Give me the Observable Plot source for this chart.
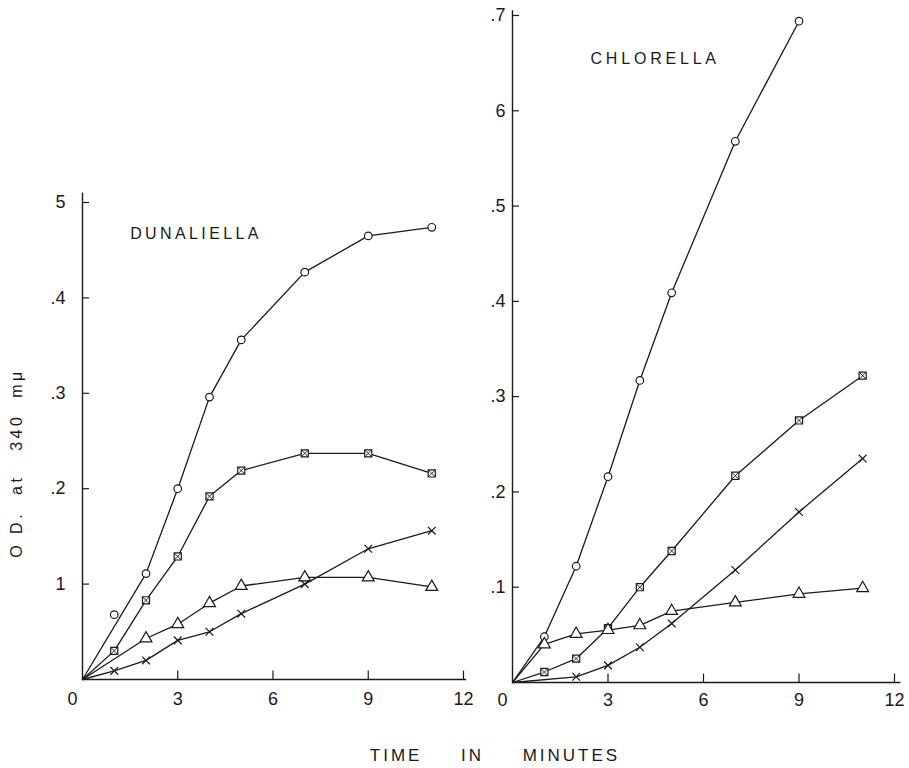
<!DOCTYPE html>
<html><head><meta charset="utf-8">
<script src="https://cdn.jsdelivr.net/npm/d3@7"></script>
<script src="https://cdn.jsdelivr.net/npm/@observablehq/plot@0.6"></script>
<style>
body{margin:0;background:#fff;}
#wrap{position:relative;width:909px;height:768px;background:#fff;}
#wrap svg{position:absolute;left:0;top:0;}
</style></head><body><div id="wrap"></div>
<script>
// ---- Data (time in minutes, O.D. at 340 mµ) ----
const timeTicks = [0, 3, 6, 9, 12];
const timeTickLabels = ["0", "3", "6", "9", "12"];
const dunODTicks = [0.1, 0.2, 0.3, 0.4, 0.5];
const dunODLabels = ["1", ".2", ".3", ".4", "5"];
const chlODTicks = [0.1, 0.2, 0.3, 0.4, 0.5, 0.6, 0.7];
const chlODLabels = [".1", ".2", ".3", ".4", ".5", "6", ".7"];

// Dunaliella
const dunCircleTime = [0, 2, 3, 4, 5, 7, 9, 11];
const dunCircleOD   = [0, 0.111, 0.200, 0.296, 0.356, 0.427, 0.465, 0.474];
const dunStrayTime  = [1];
const dunStrayOD    = [0.068];
const dunSquareTime = [0, 1, 2, 3, 4, 5, 7, 9, 11];
const dunSquareOD   = [0, 0.030, 0.083, 0.129, 0.192, 0.219, 0.237, 0.237, 0.216];
const dunTriTime    = [0, 2, 3, 4, 5, 7, 9, 11];
const dunTriOD      = [0, 0.043, 0.058, 0.080, 0.098, 0.107, 0.107, 0.097];
const dunCrossTime  = [0, 1, 2, 3, 4, 5, 7, 9, 11];
const dunCrossOD    = [0, 0.009, 0.020, 0.041, 0.050, 0.069, 0.100, 0.137, 0.156];

// Chlorella
const chlCircleTime = [0, 1, 2, 3, 4, 5, 7, 9];
const chlCircleOD   = [0, 0.048, 0.122, 0.216, 0.317, 0.409, 0.568, 0.694];
const chlSquareTime = [0, 1, 2, 3, 4, 5, 7, 9, 11];
const chlSquareOD   = [0, 0.011, 0.025, 0.057, 0.100, 0.138, 0.217, 0.275, 0.322];
const chlTriTime    = [0, 1, 2, 3, 4, 5, 7, 9, 11];
const chlTriOD      = [0, 0.040, 0.051, 0.055, 0.060, 0.075, 0.084, 0.093, 0.099];
const chlCrossTime  = [0, 2, 3, 4, 5, 7, 9, 11];
const chlCrossOD    = [0, 0.006, 0.018, 0.037, 0.062, 0.118, 0.179, 0.235];

const rows = (shape, T, V) => T.map((t, i) => ({shape, t, od: V[i]}));
const dunData = [
  ...rows("circle", dunCircleTime, dunCircleOD),
  ...rows("square", dunSquareTime, dunSquareOD),
  ...rows("triangle", dunTriTime, dunTriOD),
  ...rows("cross", dunCrossTime, dunCrossOD)
];
const dunStray = rows("circle", dunStrayTime, dunStrayOD);
const chlData = [
  ...rows("circle", chlCircleTime, chlCircleOD),
  ...rows("square", chlSquareTime, chlSquareOD),
  ...rows("triangle", chlTriTime, chlTriOD),
  ...rows("cross", chlCrossTime, chlCrossOD)
];

const INK = "#1a1a1a";
const FONT = "Liberation Sans, Arial, sans-serif";

function markerMarks(data) {
  const pts = data.filter(d => d.t > 0);
  const o = {x: "t", y: "od", stroke: INK, strokeWidth: 1.2};
  return [
    Plot.dot(pts.filter(d => d.shape === "circle"), {...o, symbol: "circle", r: 3.8, fill: "white"}),
    Plot.dot(pts.filter(d => d.shape === "square"), {...o, symbol: "square", r: 4, fill: "white"}),
    Plot.dot(pts.filter(d => d.shape === "square"), {...o, symbol: "times", r: 3, strokeWidth: 0.9}),
    Plot.dot(pts.filter(d => d.shape === "triangle"), {...o, symbol: "triangle", r: 4.4, fill: "white"}),
    Plot.dot(pts.filter(d => d.shape === "cross"), {...o, symbol: "times", r: 3.6})
  ];
}

function axisMarks(yTicks, yLabels, yTop, xEnd, yLabelDx, xLabelDy) {
  return [
    Plot.ruleX([0], {y1: 0, y2: yTop, stroke: INK, strokeWidth: 1.4}),
    Plot.ruleY([0], {x1: 0, x2: xEnd, stroke: INK, strokeWidth: 1.4}),
    Plot.ruleY(yTicks, {y: d => d, x1: 0, x2: 0.22, stroke: INK, strokeWidth: 1.2}),
    Plot.ruleX(timeTicks.slice(1), {x: d => d, y1: 0, y2: 0.0088, stroke: INK, strokeWidth: 1.2}),
    Plot.text(yTicks, {x: 0, y: d => d, text: (d, i) => yLabels[i], textAnchor: "end", dx: yLabelDx, fontSize: 18, fill: INK}),
    Plot.text(timeTicks.slice(1), {x: d => d, y: 0, text: (d, i) => timeTickLabels[i + 1], dy: xLabelDy, fontSize: 18, fill: INK}),
    Plot.text(timeTicks.slice(0, 1), {x: d => d, y: 0, text: () => timeTickLabels[0], dy: xLabelDy, dx: -10, fontSize: 18, fill: INK})
  ];
}

const common = {
  width: 909, height: 768,
  x: {domain: [0, 12], axis: null},
  style: {fontFamily: FONT, background: "transparent", overflow: "visible", color: INK}
};

const left = Plot.plot({
  ...common,
  marginLeft: 82, marginRight: 909 - 463, marginTop: 202, marginBottom: 768 - 679,
  y: {domain: [0, 0.5], axis: null},
  marks: [
    ...axisMarks(dunODTicks, dunODLabels, 0.51, 12.1, -17, 20),
    Plot.line(dunData, {x: "t", y: "od", z: "shape", stroke: INK, strokeWidth: 1.3}),
    ...markerMarks(dunData),
    ...markerMarks(dunStray),
    Plot.text(["DUNALIELLA"], {x: 1.5, y: 0.467, text: d => d, textAnchor: "start", fontSize: 16, fill: INK}),
    Plot.text(["O D.\u00a0 at\u00a0\u00a0 340\u00a0 mμ"], {frameAnchor: "left", textAnchor: "middle", lineAnchor: "middle", text: d => d, rotate: -90, dx: -66, dy: 22, fontSize: 16, fill: INK}),
    Plot.text(["TIME\u00a0\u00a0\u00a0\u00a0 IN\u00a0\u00a0\u00a0\u00a0 MINUTES"], {frameAnchor: "bottom", textAnchor: "middle", lineAnchor: "middle", text: d => d, dx: 222, dy: 76, fontSize: 17, fill: INK})
  ]
});

const right = Plot.plot({
  ...common,
  marginLeft: 512, marginRight: 909 - 894, marginTop: 15, marginBottom: 768 - 682,
  y: {domain: [0, 0.7], axis: null},
  marks: [
    ...axisMarks(chlODTicks, chlODLabels, 0.705, 12.2, -7, 18),
    Plot.line(chlData, {x: "t", y: "od", z: "shape", stroke: INK, strokeWidth: 1.3}),
    ...markerMarks(chlData),
    Plot.text(["CHLORELLA"], {x: 2.45, y: 0.655, text: d => d, textAnchor: "start", fontSize: 16, fill: INK})
  ]
});

const wrap = document.getElementById("wrap");
wrap.appendChild(left);
wrap.appendChild(right);

const spacing = {"DUNALIELLA": "3.4px", "CHLORELLA": "3.8px", "TIME": "3px", "O D.": "3.5px"};
d3.selectAll("#wrap text").each(function() {
  const t = this.textContent;
  for (const k in spacing) if (t.startsWith(k)) this.style.letterSpacing = spacing[k];
});
</script>
</body></html>
